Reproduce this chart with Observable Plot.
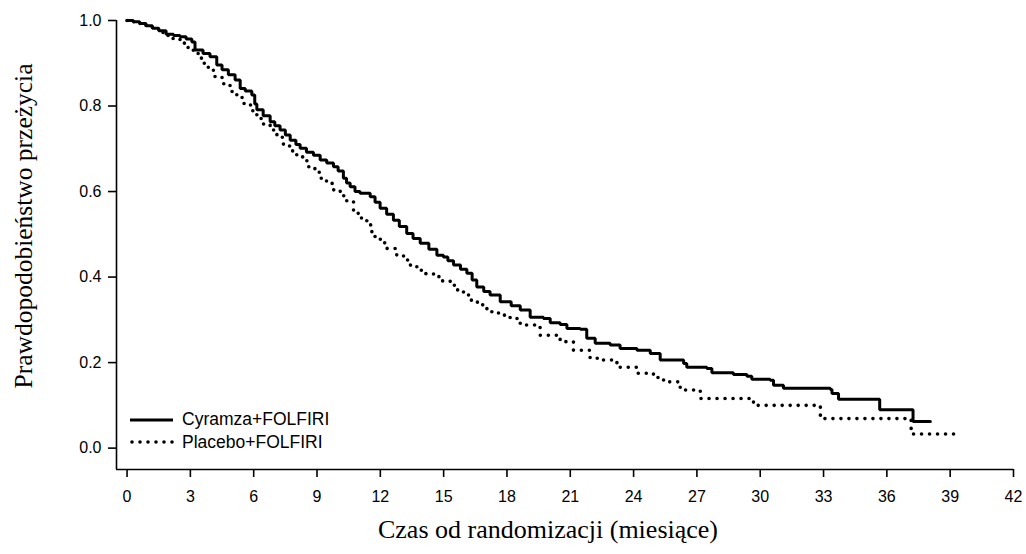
<!DOCTYPE html>
<html>
<head>
<meta charset="utf-8">
<script src="https://cdn.jsdelivr.net/npm/d3@7"></script>
<script src="https://cdn.jsdelivr.net/npm/@observablehq/plot@0.6"></script>
<style>
  body { margin: 0; background: #fff; }
  #wrap { position: relative; width: 1026px; height: 554px; }
  .lg-row { position: absolute; left: 130px; height: 22px; display: flex; align-items: center;
            font-family: "Liberation Sans", Arial, sans-serif; font-size: 17.5px; color: #000; white-space: nowrap; }
  .lg-row svg { display: block; margin-right: 8px; }
</style>
</head>
<body>
<div id="wrap"></div>
<script>
// ---- data ----
const seriesNames = ["Cyramza+FOLFIRI", "Placebo+FOLFIRI"];

const cyramzaTime = [0, 0.3, 0.6, 0.9, 1.2, 1.5, 1.85, 2.2, 2.51, 2.8, 3.07, 3.22, 3.6, 3.93, 4.25, 4.5, 4.8, 5.12, 5.36, 5.6,
  5.91, 6.05, 6.15, 6.45, 6.78, 7.0, 7.25, 7.5, 7.73, 8.0, 8.2, 8.5, 8.83, 9.15, 9.46, 9.78, 10.0, 10.25, 10.4, 10.57,
  10.8, 11.04, 11.52, 11.75, 11.99, 12.3, 12.62, 12.9, 13.25, 13.55, 13.89, 14.3, 14.68, 14.99, 15.2, 15.47, 15.8, 16.1, 16.35, 16.57,
  16.9, 17.2, 17.68, 18.2, 18.63, 19.1, 19.73, 20.05, 20.52, 20.84, 21.47, 21.78, 22.18, 22.89, 23.36, 24.16, 24.79, 25.26,
  26.37, 26.52, 27.47, 27.71, 28.73, 29.37, 29.6, 30.47, 30.63, 31.1, 33.32, 33.4, 33.71, 35.66, 37.24, 38.06];
const cyramzaSurv = [1.0, 0.997, 0.993, 0.988, 0.982, 0.976, 0.968, 0.965, 0.962, 0.957, 0.950, 0.931, 0.923, 0.915, 0.896, 0.885, 0.873, 0.861, 0.841, 0.835,
  0.826, 0.805, 0.791, 0.777, 0.763, 0.754, 0.744, 0.732, 0.720, 0.710, 0.701, 0.692, 0.685, 0.674, 0.667, 0.658, 0.648, 0.631, 0.620, 0.611,
  0.600, 0.596, 0.588, 0.575, 0.561, 0.547, 0.533, 0.518, 0.502, 0.490, 0.479, 0.465, 0.451, 0.447, 0.438, 0.428, 0.418, 0.409, 0.393, 0.377,
  0.366, 0.358, 0.342, 0.333, 0.323, 0.306, 0.303, 0.293, 0.289, 0.280, 0.278, 0.257, 0.245, 0.241, 0.233, 0.229, 0.221, 0.206,
  0.198, 0.189, 0.186, 0.176, 0.172, 0.168, 0.161, 0.159, 0.147, 0.140, 0.137, 0.128, 0.114, 0.090, 0.062, 0.062];

const placeboTime = [0, 0.3, 0.6, 0.9, 1.2, 1.5, 1.85, 2.16, 2.51, 2.8, 3.14, 3.4, 3.62, 3.85, 4.09, 4.5, 4.88, 5.2, 5.51, 5.85,
  6.15, 6.45, 6.78, 7.1, 7.41, 7.7, 8.04, 8.52, 8.9, 9.15, 9.45, 9.78, 10.1, 10.41, 10.73, 11.0, 11.36, 11.6, 11.75, 12.0,
  12.31, 12.7, 13.1, 13.4, 13.73, 14.1, 14.52, 14.9, 15.31, 15.6, 15.94, 16.26, 16.6, 17.05, 17.6, 18.15, 18.63, 19.57, 20.52,
  21.15, 21.94, 22.57, 23.21, 24.16, 24.94, 25.42, 26.21, 27.16, 29.5, 29.68, 32.85, 37.15, 39.3];
const placeboSurv = [1.0, 0.997, 0.993, 0.987, 0.980, 0.972, 0.965, 0.958, 0.947, 0.937, 0.923, 0.912, 0.900, 0.885, 0.869, 0.852, 0.834, 0.820, 0.806, 0.789,
  0.771, 0.758, 0.744, 0.727, 0.709, 0.695, 0.681, 0.658, 0.645, 0.631, 0.619, 0.604, 0.590, 0.576, 0.549, 0.538, 0.522, 0.505, 0.490, 0.480,
  0.467, 0.452, 0.440, 0.428, 0.416, 0.408, 0.401, 0.391, 0.381, 0.370, 0.358, 0.346, 0.335, 0.319, 0.311, 0.303, 0.288, 0.264, 0.249,
  0.229, 0.210, 0.206, 0.189, 0.175, 0.165, 0.155, 0.136, 0.116, 0.108, 0.100, 0.069, 0.033, 0.033];

const xTicks = [0, 3, 6, 9, 12, 15, 18, 21, 24, 27, 30, 33, 36, 39, 42];
const yTicks = [0.0, 0.2, 0.4, 0.6, 0.8, 1.0];
const xDomain = [-0.5, 42];
const yDomain = [-0.05, 1.0];
const xTitle = "Czas od randomizacji (miesiące)";
const yTitle = "Prawdopodobieństwo przeżycia";

// ---- build tables ----
const cyramza = cyramzaTime.map((t, i) => ({t, s: cyramzaSurv[i]}));
const placebo = placeboTime.map((t, i) => ({t, s: placeboSurv[i]}));

const serif = "'Liberation Serif', 'Times New Roman', serif";

const chart = Plot.plot({
  width: 1026,
  height: 554,
  marginLeft: 116,
  marginRight: 13,
  marginTop: 20,
  marginBottom: 85,
  style: {fontFamily: "'Liberation Sans', Arial, sans-serif", fontSize: "16px", color: "#000", background: "#fff"},
  x: {domain: xDomain},
  y: {domain: yDomain},
  marks: [
    Plot.ruleX([xDomain[0]], {stroke: "#000", strokeWidth: 1.6}),
    Plot.ruleY([yDomain[0]], {stroke: "#000", strokeWidth: 1.6}),
    Plot.axisX({ticks: xTicks, tickSize: 8, tickPadding: 13, strokeWidth: 1.6, label: null, tickFormat: d => String(d)}),
    Plot.axisY({ticks: yTicks, tickSize: 8, tickPadding: 7, strokeWidth: 1.6, label: null, tickFormat: d3.format(".1f")}),
    Plot.line(cyramza, {x: "t", y: "s", curve: "step-after", stroke: "#000", strokeWidth: 3, strokeLinejoin: "miter"}),
    Plot.line(placebo, {x: "t", y: "s", curve: "step-after", stroke: "#000", strokeWidth: 3.6,
      strokeDasharray: "0 8", strokeLinecap: "round"}),
    Plot.text([xTitle], {frameAnchor: "bottom", text: d => d, dx: -17, dy: 68, fontSize: 26, fontFamily: serif, fill: "#000"}),
    Plot.text([yTitle], {frameAnchor: "left", text: d => d, rotate: -90, textAnchor: "middle", dx: -93, dy: -19,
      fontSize: 25.5, fontFamily: serif, fill: "#000"})
  ]
});

const wrap = document.getElementById("wrap");
wrap.appendChild(chart);

// ---- legend (inside the plot area, lower left) ----
const legendRows = [
  {name: seriesNames[0], top: 408.5, dash: null, width: 3, cap: "butt"},
  {name: seriesNames[1], top: 431, dash: "0 8", width: 3.6, cap: "round"}
];
for (const r of legendRows) {
  const row = document.createElement("div");
  row.className = "lg-row";
  row.style.top = r.top + "px";
  const ns = "http://www.w3.org/2000/svg";
  const sw = document.createElementNS(ns, "svg");
  sw.setAttribute("width", 44); sw.setAttribute("height", 22);
  const ln = document.createElementNS(ns, "line");
  ln.setAttribute("x1", r.dash ? 2 : 0); ln.setAttribute("x2", 43);
  ln.setAttribute("y1", 11); ln.setAttribute("y2", 11);
  ln.setAttribute("stroke", "#000"); ln.setAttribute("stroke-width", r.width);
  ln.setAttribute("stroke-linecap", r.cap);
  if (r.dash) ln.setAttribute("stroke-dasharray", r.dash);
  sw.appendChild(ln);
  row.appendChild(sw);
  const tx = document.createElement("span");
  tx.textContent = r.name;
  row.appendChild(tx);
  wrap.appendChild(row);
}
</script>
</body>
</html>
